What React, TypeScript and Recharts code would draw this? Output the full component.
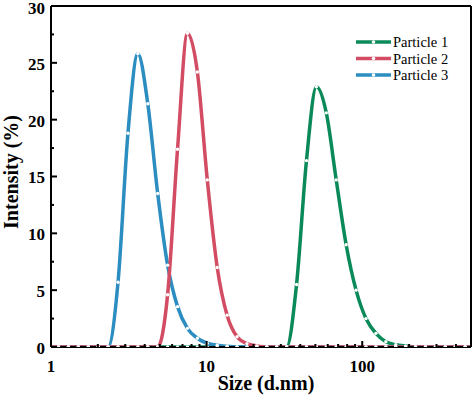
import React from "react"
import { LineChart, Line, XAxis, YAxis, Legend, ReferenceLine, Label } from "recharts"

// DLS size bins (d.nm)
const sizes = [
  0.8332, 0.9649, 1.117, 1.294, 1.499, 1.736, 2.01, 2.328, 2.696, 3.122, 3.615, 4.187, 4.849, 5.615, 6.503,
  7.531, 8.721, 10.1, 11.7, 13.54, 15.69, 18.17, 21.04, 24.36, 28.21, 32.67, 37.84, 43.82, 50.75, 58.77, 68.06,
  78.82, 91.28, 105.7, 122.4, 141.8, 164.2, 190.1, 220.2, 255.0, 295.3, 342.0, 396.1, 458.7, 531.2,
]

// intensity (%) per bin
const particle1 = [
  0, 0, 0, 0, 0, 0, 0, 0, 0, 0, 0, 0, 0, 0, 0, 0, 0, 0, 0, 0, 0, 0, 0, 0, 0, 0, 5.5, 16.4, 22.9, 20.6, 14.7, 9.0,
  5.0, 2.5, 1.2, 0.47, 0.2, 0.08, 0, 0, 0, 0, 0, 0, 0,
]
const particle2 = [
  0, 0, 0, 0, 0, 0, 0, 0, 0, 0, 0, 0, 0, 4.6, 17.4, 27.6, 24.2, 14.7, 7.0, 2.8, 0.9, 0.3, 0.1, 0, 0, 0, 0, 0, 0,
  0, 0, 0, 0, 0, 0, 0, 0, 0, 0, 0, 0, 0, 0, 0, 0,
]
const particle3 = [
  0, 0, 0, 0, 0, 0, 0, 0, 5.7, 18.8, 25.8, 21.4, 13.5, 7.2, 3.55, 1.64, 0.77, 0.33, 0.15, 0.06, 0, 0, 0, 0, 0, 0,
  0, 0, 0, 0, 0, 0, 0, 0, 0, 0, 0, 0, 0, 0, 0, 0, 0, 0, 0,
]

const xTicks = [1, 2, 3, 4, 5, 6, 7, 8, 9, 10, 20, 30, 40, 50, 60, 70, 80, 90, 100, 200, 300, 400, 500]
const xLabels = [1, 10, 100]
const yTicks = [0, 2.5, 5, 7.5, 10, 12.5, 15, 17.5, 20, 22.5, 25, 27.5, 30]

const series = [
  { key: "p1", name: "Particle 1", color: "#0a8a58" },
  { key: "p2", name: "Particle 2", color: "#d24c63" },
  { key: "p3", name: "Particle 3", color: "#2b8dc0" },
]

const data = sizes.map((size, i) => ({
  size,
  p1: particle1[i],
  p2: particle2[i],
  p3: particle3[i],
}))

const FONT = "'Liberation Serif', 'Times New Roman', serif"
const bold = { fontFamily: FONT, fontWeight: 700 }
const X_MARGIN = 13
const Y_MARGIN = 6

function XTick(props: any) {
  const { x, y, payload } = props
  const v = payload.value
  const major = xLabels.includes(v)
  const axisY = y - X_MARGIN
  return (
    <g>
      <line x1={x} x2={x} y1={axisY} y2={axisY - (major ? 6 : 3)} stroke="#000" strokeWidth={2} />
      {major && (
        <text x={x} y={y} dy="0.71em" textAnchor="middle" style={bold} fontSize={17} fill="#000">
          {v}
        </text>
      )}
    </g>
  )
}

function YTick(props: any) {
  const { x, y, payload } = props
  const v = payload.value
  const major = v % 5 === 0
  const axisX = x + Y_MARGIN
  // keep the top label inside the page
  const ty = v === 30 ? y + 2.5 : y + 1
  return (
    <g>
      <line x1={axisX} x2={axisX + (major ? 6 : 3)} y1={y} y2={y} stroke="#000" strokeWidth={2} />
      {major && (
        <text x={x} y={ty} dy="0.35em" textAnchor="end" style={bold} fontSize={17} fill="#000">
          {v}
        </text>
      )}
    </g>
  )
}

function renderLegend() {
  return (
    <svg width={120} height={56} style={{ display: "block" }}>
      {series.map((s, i) => {
        const cy = 10 + i * 16.5
        return (
          <g key={s.key}>
            <line x1={6} x2={41} y1={cy} y2={cy} stroke={s.color} strokeWidth={3.5} />
            <circle cx={23.5} cy={cy} r={1.8} fill="#fff" />
            <text x={43} y={cy} dy="0.35em" style={{ fontFamily: FONT }} fontSize={14.5} fill="#000">
              {s.name}
            </text>
          </g>
        )
      })}
    </svg>
  )
}

export default function App() {
  return (
    <div style={{ position: "absolute", left: 0, top: 0, background: "#fff" }}>
      <LineChart width={474} height={396} data={data} margin={{ top: 6, right: 3, left: 0, bottom: 0 }}>
        <XAxis
          dataKey="size"
          type="number"
          scale="log"
          domain={[1, 500]}
          allowDataOverflow
          ticks={xTicks}
          interval={0}
          tick={<XTick />}
          tickSize={0}
          tickMargin={X_MARGIN}
          tickLine={false}
          axisLine={{ stroke: "#000", strokeWidth: 2 }}
          height={49}
        >
          <Label
            content={() => (
              <text x={266} y={390} textAnchor="middle" style={bold} fontSize={20} fill="#000">
                Size (d.nm)
              </text>
            )}
          />
        </XAxis>
        <YAxis
          type="number"
          domain={[0, 30]}
          allowDataOverflow
          ticks={yTicks}
          interval={0}
          tick={<YTick />}
          tickSize={0}
          tickMargin={Y_MARGIN}
          tickLine={false}
          axisLine={{ stroke: "#000", strokeWidth: 2 }}
          width={51}
        >
          <Label
            content={() => (
              <text
                x={18}
                y={172}
                transform="rotate(-90 18 172)"
                textAnchor="middle"
                style={bold}
                fontSize={20}
                fill="#000"
              >
                Intensity (%)
              </text>
            )}
          />
        </YAxis>
        <ReferenceLine y={30} stroke="#000" strokeWidth={2} />
        <ReferenceLine x={500} stroke="#000" strokeWidth={2} />
        <Legend
          content={renderLegend}
          layout="horizontal"
          verticalAlign="middle"
          wrapperStyle={{ position: "absolute", left: 350, top: 32, width: 120 }}
        />
        {[series[0], series[2], series[1]].map((s) => (
          <Line
            key={s.key}
            dataKey={s.key}
            name={s.name}
            type="monotone"
            stroke={s.color}
            strokeWidth={3.5}
            dot={{ r: 1.7, fill: "#fff", stroke: "none" }}
            activeDot={false}
            isAnimationActive={false}
          />
        ))}
      </LineChart>
    </div>
  )
}
